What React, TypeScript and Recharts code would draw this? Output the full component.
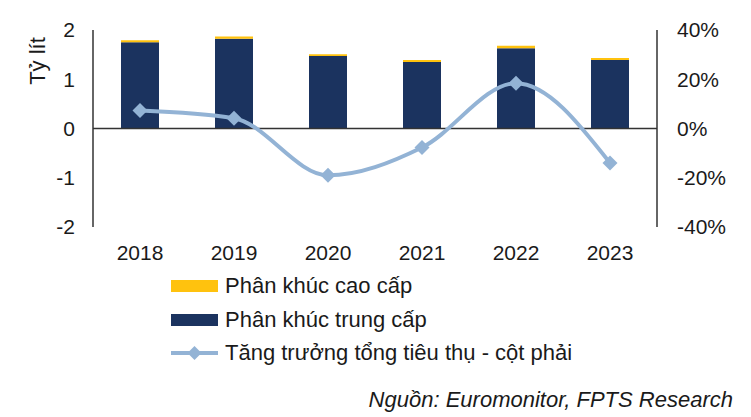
import { Bar, ComposedChart, Line, ReferenceLine, XAxis, YAxis } from 'recharts';

const years = ['2018', '2019', '2020', '2021', '2022', '2023'];
const midSegment = [1.75, 1.82, 1.47, 1.35, 1.63, 1.39];
const premiumSegment = [0.04, 0.05, 0.04, 0.04, 0.05, 0.04];
const totalGrowth = [7.3, 4.2, -19, -7.7, 18.4, -14];
const leftTicks = [-2, -1, 0, 1, 2];
const rightTicks = [-40, -20, 0, 20, 40];

const data = years.map((year, i) => ({
  year,
  mid: midSegment[i],
  premium: premiumSegment[i],
  growth: totalGrowth[i],
}));

const navy = '#1b335f';
const gold = '#ffc20e';
const steel = '#93b3d5';
const textColor = '#1a1a1a';

const Diamond = (props: any) => {
  const { cx, cy } = props;
  if (cx == null || cy == null) return null;
  const r = 7.5;
  return (
    <polygon
      points={`${cx},${cy - r} ${cx + r},${cy} ${cx},${cy + r} ${cx - r},${cy}`}
      fill={steel}
    />
  );
};

const legendRows = [
  { label: 'Phân khúc cao cấp', kind: 'bar', color: gold },
  { label: 'Phân khúc trung cấp', kind: 'bar', color: navy },
  { label: 'Tăng trưởng tổng tiêu thụ - cột phải', kind: 'line', color: steel },
];

export default function App() {
  return (
    <div
      style={{
        position: 'absolute',
        left: 0,
        top: 0,
        width: 751,
        height: 417,
        background: '#fff',
        fontFamily: '"Liberation Sans", Arial, sans-serif',
        color: textColor,
      }}
    >
      <ComposedChart
        width={751}
        height={417}
        data={data}
        margin={{ top: 30, right: 0, bottom: 160, left: 0 }}
        barSize={38}
      >
        <XAxis
          dataKey="year"
          xAxisId={0}
          height={30}
          axisLine={false}
          tickLine={false}
          tickMargin={12}
          tick={{ fill: textColor, fontSize: 21 }}
        />
        <YAxis
          yAxisId="left"
          width={93}
          domain={[-2, 2]}
          ticks={leftTicks}
          interval={0}
          tickLine={false}
          tickMargin={12}
          axisLine={{ stroke: '#333', strokeWidth: 1.5 }}
          tick={{ fill: textColor, fontSize: 21 }}
        />
        <YAxis
          yAxisId="right"
          orientation="right"
          width={94}
          domain={[-40, 40]}
          ticks={rightTicks}
          interval={0}
          tickLine={false}
          tickMargin={14}
          tickFormatter={(v: number) => `${v}%`}
          axisLine={{ stroke: '#333', strokeWidth: 1.5 }}
          tick={{ fill: textColor, fontSize: 21 }}
        />
        <Bar yAxisId="left" dataKey="mid" stackId="s" fill={navy} isAnimationActive={false} />
        <Bar yAxisId="left" dataKey="premium" stackId="s" fill={gold} isAnimationActive={false} />
        <ReferenceLine yAxisId="left" y={0} stroke="#333" strokeWidth={1.5} />
        <Line
          yAxisId="right"
          type="monotone"
          dataKey="growth"
          stroke={steel}
          strokeWidth={4}
          dot={<Diamond />}
          activeDot={false}
          isAnimationActive={false}
        />
      </ComposedChart>

      <div
        style={{
          position: 'absolute',
          left: 38,
          top: 61,
          transform: 'translate(-50%, -50%) rotate(-90deg)',
          fontSize: 22,
          whiteSpace: 'nowrap',
        }}
      >
        Tỷ lít
      </div>

      {legendRows.map((row, i) => (
        <div
          key={row.label}
          style={{
            position: 'absolute',
            left: 171,
            top: 286 + i * 33.5 - 13,
            height: 26,
            display: 'flex',
            alignItems: 'center',
            fontSize: 22,
            whiteSpace: 'nowrap',
          }}
        >
          <svg width={50} height={20} style={{ marginRight: 4 }}>
            {row.kind === 'bar' ? (
              <rect x={0} y={4} width={47} height={12} fill={row.color} />
            ) : (
              <>
                <line x1={0} y1={10} x2={47} y2={10} stroke={row.color} strokeWidth={4} />
                <polygon points="23.5,3 30.5,10 23.5,17 16.5,10" fill={row.color} />
              </>
            )}
          </svg>
          {row.label}
        </div>
      ))}

      <div
        style={{
          position: 'absolute',
          right: 18,
          top: 387,
          fontSize: 22,
          fontStyle: 'italic',
          whiteSpace: 'nowrap',
        }}
      >
        Nguồn: Euromonitor, FPTS Research
      </div>
    </div>
  );
}
